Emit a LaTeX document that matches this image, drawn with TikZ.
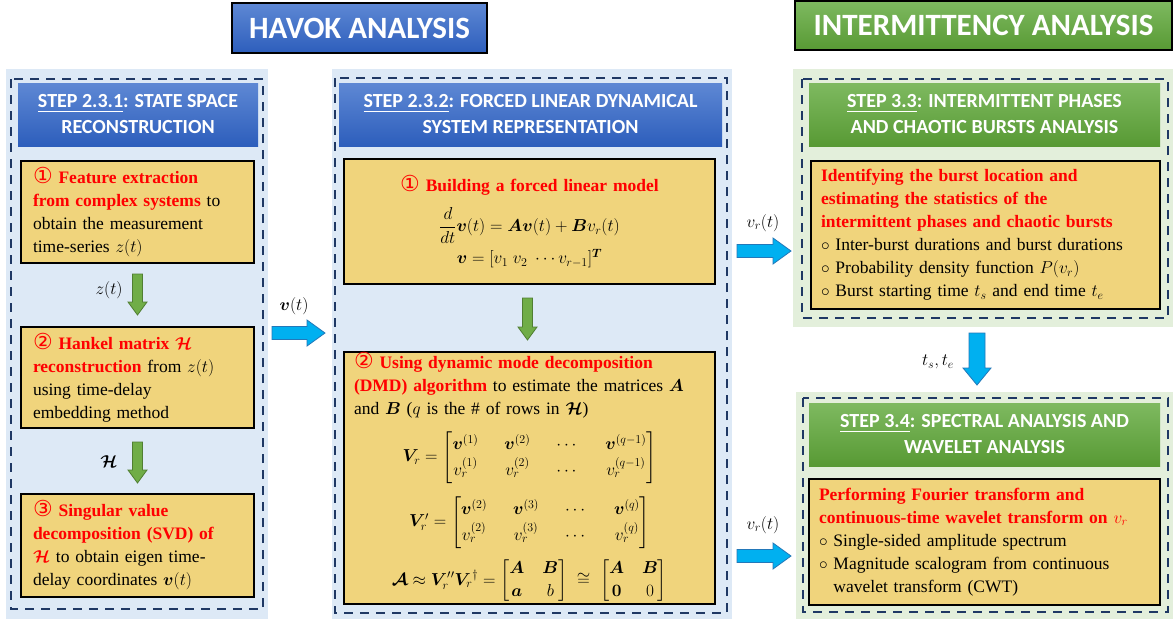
\documentclass[tikz,border=0pt]{standalone}
\usepackage{amsmath,bm}
\usepackage{fontspec}
\setmainfont{Liberation Serif}
\newfontfamily\hdfont{Carlito}
\newfontfamily\symfont{DejaVu Sans}
\usetikzlibrary{calc}
\definecolor{panelB}{RGB}{221,233,246}
\definecolor{panelG}{RGB}{227,239,219}
\definecolor{yel}{RGB}{240,212,124}
\definecolor{navy}{RGB}{31,56,100}
\definecolor{hbTop}{RGB}{94,136,212}
\definecolor{hbBot}{RGB}{45,94,188}
\definecolor{hgTop}{RGB}{126,185,96}
\definecolor{hgBot}{RGB}{88,154,52}
\definecolor{gArrF}{RGB}{112,173,71}
\definecolor{gArrD}{RGB}{80,126,50}
\definecolor{bArrF}{RGB}{0,176,240}
\definecolor{bArrD}{RGB}{35,120,185}
\newcommand{\bodyfont}{\fontsize{17.5}{23}\selectfont}
\newcommand{\rb}[1]{\textcolor{red}{\bfseries #1}}
\newcommand{\cnum}[1]{{\symfont\fontsize{22}{22}\selectfont\textcolor{red}{#1}}}
\newcommand{\varrowblk}[6]{\path[#1] let \p1=(#2), \p2=(#3) in (\x1-#4,\y1) -- (\x1+#4,\y1) -- (\x1+#4,\y2+#6) -- (\x1+#5,\y2+#6) -- (\x1,\y2) -- (\x1-#5,\y2+#6) -- (\x1-#4,\y2+#6) -- cycle;}
\newcommand{\harrowblk}[6]{\path[#1] let \p1=(#2), \p2=(#3) in (\x1,\y1+#4) -- (\x2-#6,\y1+#4) -- (\x2-#6,\y1+#5) -- (\x2,\y1) -- (\x2-#6,\y1-#5) -- (\x2-#6,\y1-#4) -- (\x1,\y1-#4) -- cycle;}
\tikzset{
  panel/.style={draw=none, inner sep=0pt, outer sep=0pt, anchor=north west},
  dashbox/.style={draw=navy, line width=2.5pt, dash pattern=on 9pt off 7pt},
  ybox/.style={draw=black, line width=1.6pt, fill=yel, inner xsep=10pt, inner ysep=0pt, outer sep=0pt, anchor=north west, align=left, font=\bodyfont},
  hdr/.style={draw=none, inner sep=0pt, outer sep=0pt, anchor=north west, text=white, align=center, font=\hdfont\bfseries\fontsize{20}{26}\selectfont, minimum height=63pt},
  hdrB/.style={hdr, top color=hbTop, bottom color=hbBot},
  hdrG/.style={hdr, top color=hgTop, bottom color=hgBot},
  ttl/.style={draw=black, line width=1.5pt, inner sep=0pt, outer sep=0pt, anchor=north west, text=white, font=\hdfont\bfseries\fontsize{31}{36}\selectfont},
  garrow/.style={fill=gArrF, draw=gArrD, line width=0.8pt},
  barrow/.style={fill=bArrF, draw=bArrD, line width=0.8pt},
  lbl/.style={inner sep=0pt, font=\bodyfont}
}
\begin{document}
\begin{tikzpicture}[x=1pt,y=-1pt]
\useasboundingbox (0,0) rectangle (1175,619);
\fill[white] (0,0) rectangle (1175,619);
% titles
\node[ttl, top color=hbTop, bottom color=hbBot, minimum width=255pt, minimum height=50pt] (T1) at (232,3) {HAVOK ANALYSIS};
\node[ttl, top color=hgTop, bottom color=hgBot, minimum width=377pt, minimum height=49pt] (T2) at (795,1) {INTERMITTENCY ANALYSIS};
% panels
\node[panel, fill=panelB, minimum width=262pt, minimum height=550pt] (Lp) at (6,69) {};
\node[panel, fill=panelB, minimum width=400pt, minimum height=550pt] (Mp) at (332,69) {};
\node[panel, fill=panelG, minimum width=380pt, minimum height=258pt] (RTp) at (793,69) {};
\node[panel, fill=panelG, minimum width=377pt, minimum height=227pt] (RBp) at (796,392) {};
\draw[dashbox] (11,79) rectangle (263,609);
\draw[dashbox] (335,78) rectangle (727,613);
\draw[dashbox] (802,79) rectangle (1168,318);
\draw[dashbox] (803,398) rectangle (1168,612);
% headers
\node[hdrB, minimum width=240pt] (HL) at (18,83) {\underline{STEP 2.3.1}: STATE SPACE\\RECONSTRUCTION};
\node[hdrB, minimum width=383pt] (HM) at (339,83) {\underline{STEP 2.3.2}: FORCED LINEAR DYNAMICAL\\SYSTEM REPRESENTATION};
\node[hdrG, minimum width=351pt] (HRT) at (809,83) {\underline{STEP 3.3}: INTERMITTENT PHASES\\AND CHAOTIC BURSTS ANALYSIS};
\node[hdrG, minimum width=351pt] (HRB) at (809,403) {\underline{STEP 3.4}: SPECTRAL ANALYSIS AND\\WAVELET ANALYSIS};
% left boxes
\node[ybox, inner xsep=12pt, text width=209pt, minimum height=102pt] (L1) at (21,161) {\cnum{①} \rb{Feature extraction}\\\rb{from complex systems} to\\obtain the measurement\\time-series $z(t)$};
\node[ybox, inner xsep=12pt, text width=209pt, minimum height=101pt] (L2) at (21,327) {\cnum{②} \rb{Hankel matrix $\bm{\mathcal{H}}$}\\\rb{reconstruction} from $z(t)$\\using time-delay\\embedding method};
\node[ybox, inner xsep=12pt, text width=209pt, minimum height=103pt] (L3) at (21,494) {\cnum{③} \rb{Singular value}\\\rb{decomposition (SVD) of}\\\rb{$\bm{\mathcal{H}}$} to obtain eigen time-\\delay coordinates $\bm{v}(t)$};
% middle boxes
\node[ybox, text width=351pt, minimum height=125pt, align=center] (M1) at (344,159) {\cnum{①} \rb{Building a forced linear model}\\[12pt]\mbox{$\displaystyle\frac{d}{dt}\bm{v}(t)=\bm{A}\bm{v}(t)+\bm{B}v_r(t)$}\\[5pt]\mbox{$\bm{v}=[v_1\;v_2\;\cdots v_{r-1}]^{\bm{T}}$}};
\node[ybox, text width=351pt, minimum height=251pt] (M2) at (344,352) {\cnum{②} \rb{Using dynamic mode decomposition}\\\rb{(DMD) algorithm} to estimate the matrices $\bm{A}$\\and $\bm{B}$ ($q$ is the \# of rows in $\bm{\mathcal{H}}$)\\[12pt]
\makebox[\hsize]{\setlength{\arraycolsep}{13pt}\renewcommand{\arraystretch}{1.15}$\bm{V}_r=\begin{bmatrix}\bm{v}^{(1)} & \bm{v}^{(2)} & \cdots & \bm{v}^{(q-1)}\\ v_r^{(1)} & v_r^{(2)} & \cdots & v_r^{(q-1)}\end{bmatrix}$}\\[11pt]
\makebox[\hsize]{\setlength{\arraycolsep}{13pt}\renewcommand{\arraystretch}{1.15}$\bm{V}_r'=\begin{bmatrix}\bm{v}^{(2)} & \bm{v}^{(3)} & \cdots & \bm{v}^{(q)}\\ v_r^{(2)} & v_r^{(3)} & \cdots & v_r^{(q)}\end{bmatrix}$}\\[8pt]
\makebox[\hsize]{\setlength{\arraycolsep}{9pt}$\bm{\mathcal{A}}\approx\bm{V}_r'{}'\bm{V}_r{}^{\dagger}=\begin{bmatrix}\bm{A} & \bm{B}\\ \bm{a} & b\end{bmatrix}\;\cong\;\begin{bmatrix}\bm{A} & \bm{B}\\ \bm{0} & 0\end{bmatrix}$}};
% right boxes
\node[ybox, text width=329pt, minimum height=148pt] (R1) at (811,161) {\rb{Identifying the burst location and}\\\rb{estimating the statistics of the}\\\rb{intermittent phases and chaotic bursts}\\$\circ$ Inter-burst durations and burst durations\\$\circ$ Probability density function $P(v_r)$\\$\circ$ Burst starting time $t_s$ and end time $t_e$};
\node[ybox, text width=331pt, minimum height=126pt] (R2) at (809,479) {\rb{Performing Fourier transform and}\\\rb{continuous-time wavelet transform on $v_r$}\\$\circ$ Single-sided amplitude spectrum\\$\circ$ Magnitude scalogram from continuous\\\hphantom{$\circ$ }wavelet transform (CWT)};
% arrow end points
\coordinate (g1a) at ($(L1.south)+(0,11)$);
\coordinate (g1b) at ($(L2.north)+(0,-12)$);
\coordinate (g2a) at ($(L2.south)+(0,14)$);
\coordinate (g2b) at ($(L3.north)+(0,-11)$);
\coordinate (g3a) at ($(M1.south)+(-2,14)$);
\coordinate (g3b) at ($(M2.north)+(-2,-12)$);
\coordinate (va) at ($(Lp.east|-L2.south)+(4,-95)$);
\coordinate (vb) at ($(Mp.west|-L2.south)+(-7,-95)$);
\coordinate (r1a) at ($(Mp.east|-R1.center)+(5,16)$);
\coordinate (r1b) at ($(RTp.west|-R1.center)+(-2,16)$);
\coordinate (r2a) at ($(Mp.east|-R2.center)+(5,14)$);
\coordinate (r2b) at ($(RBp.west|-R2.center)+(-5,14)$);
\coordinate (ta) at ($(RTp.south)+(-6,6)$);
\coordinate (tb) at ($(RBp.north)+(-7,-7)$);
% arrows
\varrowblk{garrow}{g1a}{g1b}{5pt}{9.5pt}{13pt}
\varrowblk{garrow}{g2a}{g2b}{5pt}{9.5pt}{13pt}
\varrowblk{garrow}{g3a}{g3b}{5pt}{9.5pt}{13pt}
\harrowblk{barrow}{va}{vb}{6.5pt}{13pt}{18pt}
\harrowblk{barrow}{r1a}{r1b}{6.5pt}{13pt}{18pt}
\harrowblk{barrow}{r2a}{r2b}{6.5pt}{13pt}{18pt}
\varrowblk{barrow}{ta}{tb}{8pt}{14pt}{17pt}
% labels
\node[lbl] (lz) at (109,290) {$z(t)$};
\node[lbl] (lH) at (109,462) {$\bm{\mathcal{H}}$};
\node[lbl] (lv) at (294,306) {$\bm{v}(t)$};
\node[lbl] (lr1) at (763,223) {$v_r(t)$};
\node[lbl] (lr2) at (763,525) {$v_r(t)$};
\node[lbl] (lts) at (938,362) {$t_s,t_e$};
\end{tikzpicture}
\end{document}
